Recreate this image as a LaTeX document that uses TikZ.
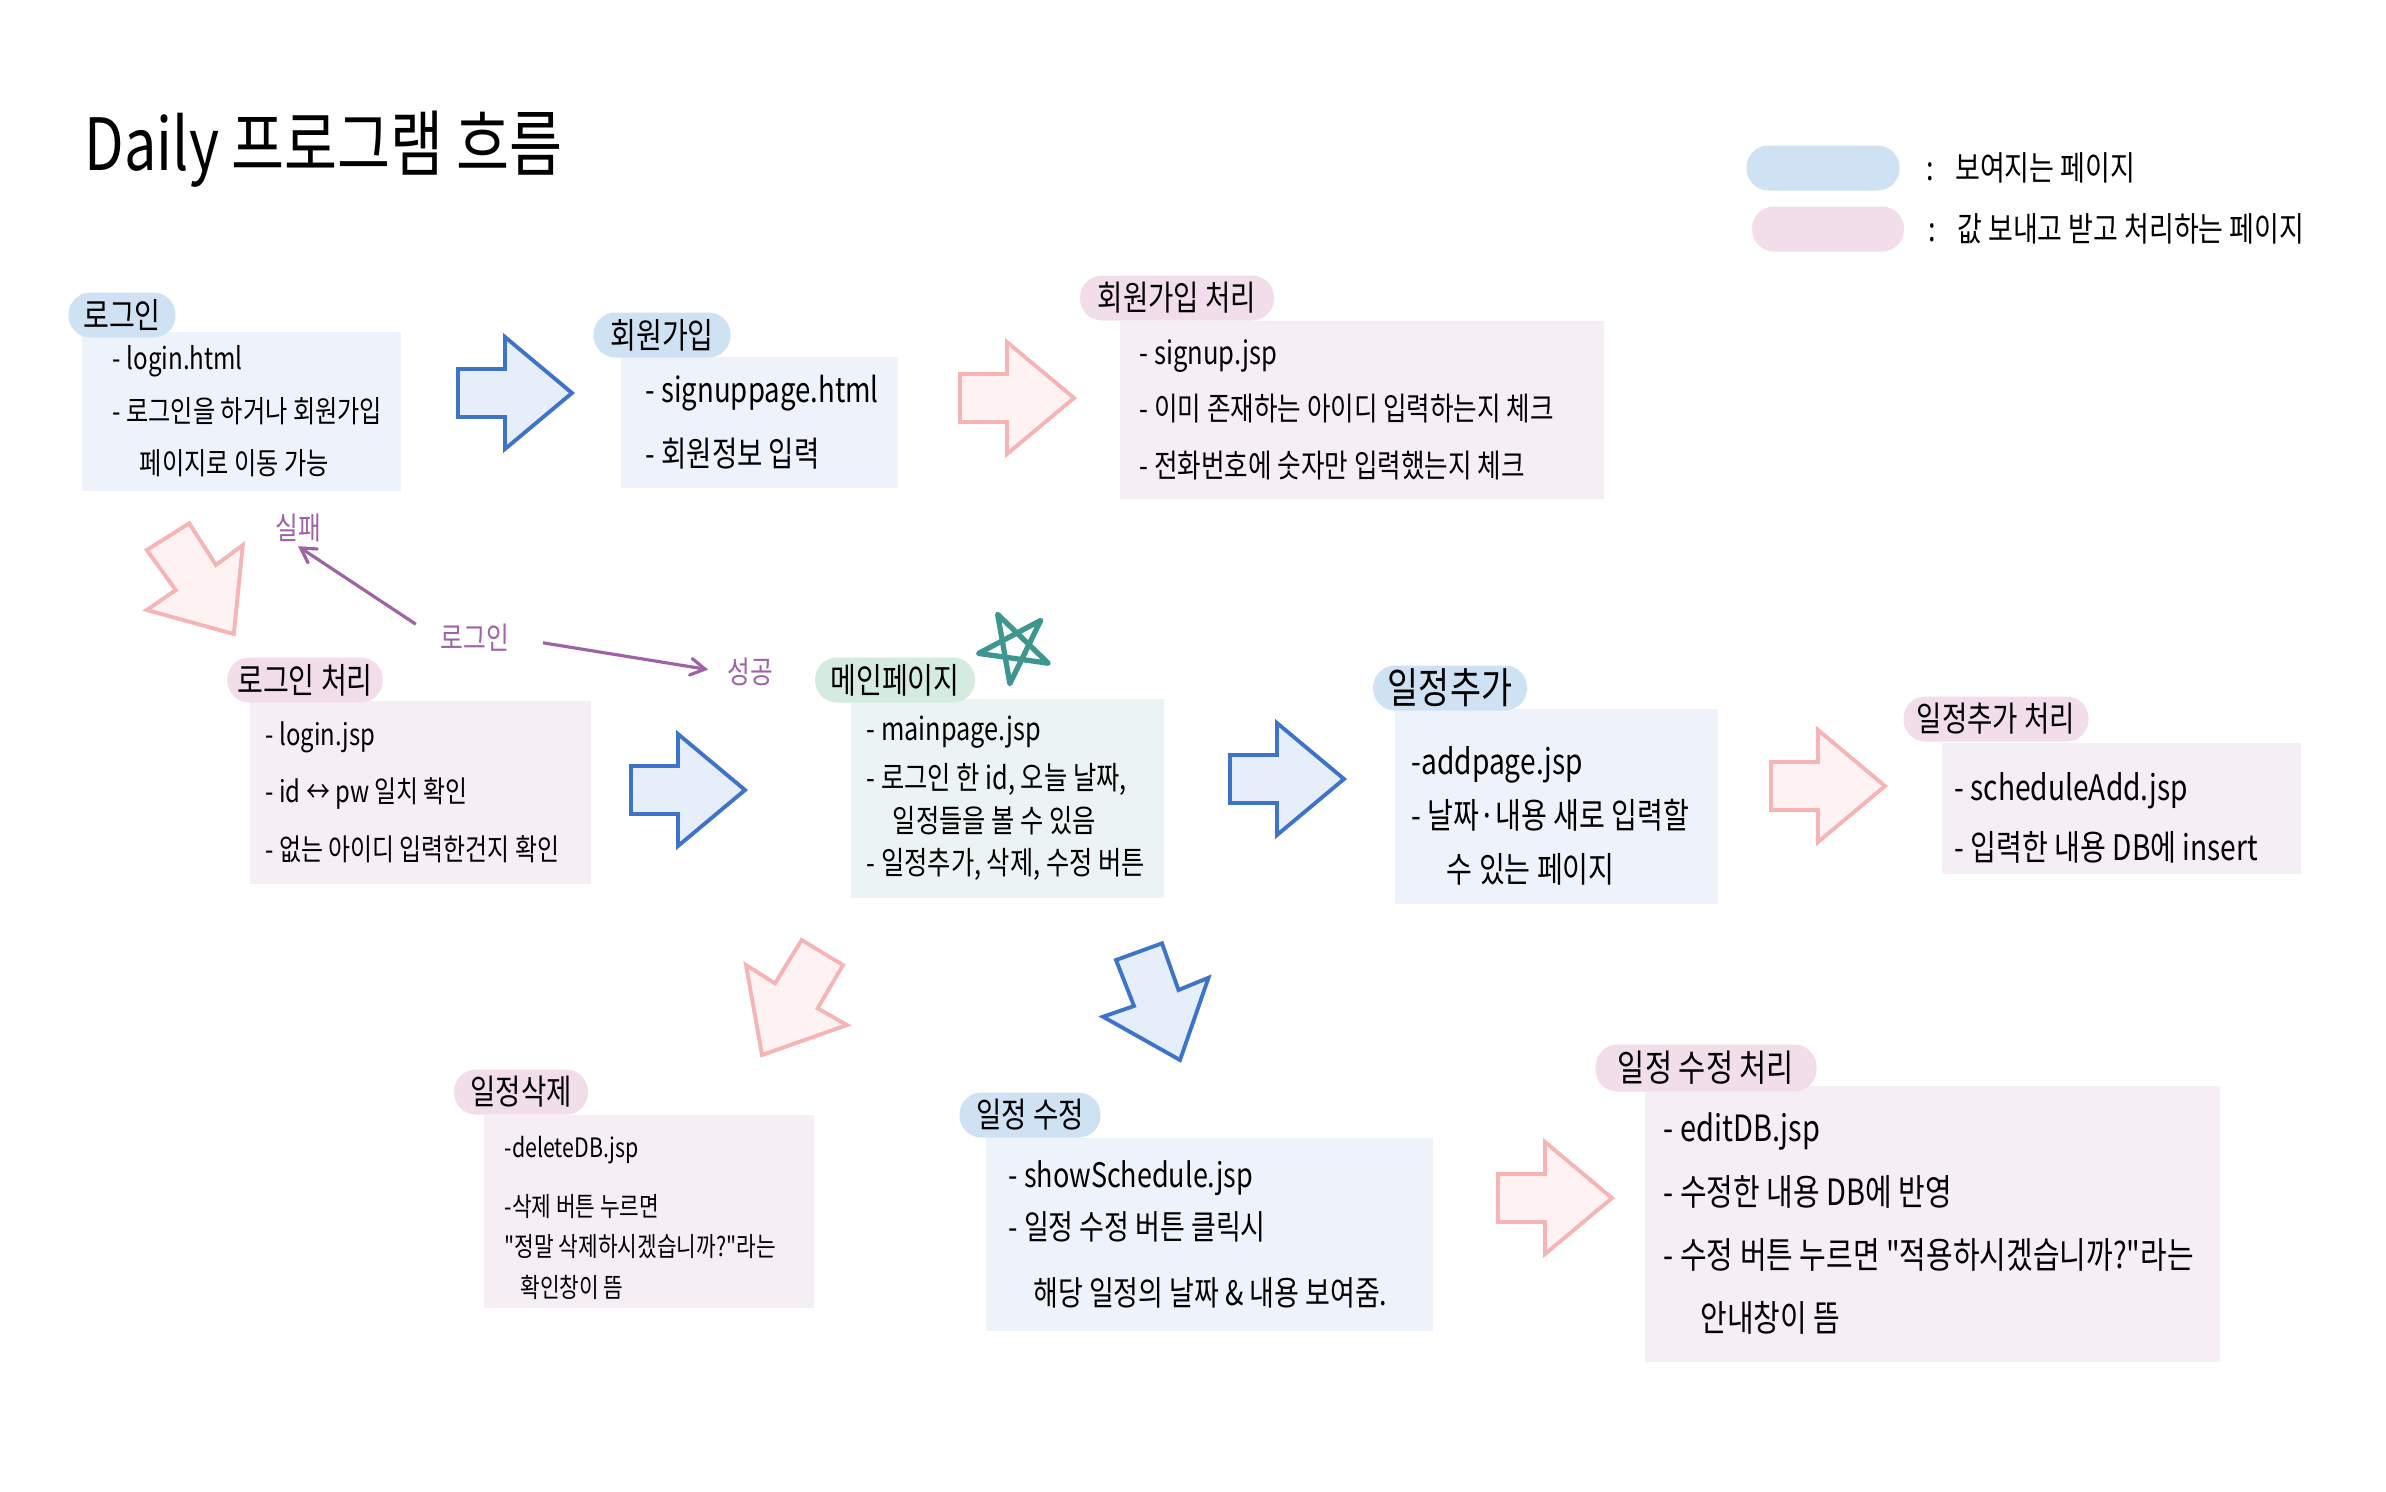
\documentclass[tikz,border=0pt]{standalone}
\usepackage{fontspec}
\newfontfamily\hand[FakeStretch=0.8]{Noto Sans CJK KR}
\usetikzlibrary{arrows, positioning}

\definecolor{tagblue}{HTML}{CFE2F3}
\definecolor{tagpink}{HTML}{F2DEEA}
\definecolor{taggreen}{HTML}{D4EBDF}
\definecolor{boxblue}{HTML}{EEF3FB}
\definecolor{boxpink}{HTML}{F5EEF5}
\definecolor{boxgreen}{HTML}{ECF3F3}
\definecolor{arrblue}{HTML}{3D74C9}
\definecolor{arrbluefill}{HTML}{E6EEF9}
\definecolor{arrpink}{HTML}{F7B4B4}
\definecolor{arrpinkfill}{HTML}{FFF2F2}
\definecolor{flowpurple}{HTML}{A062A6}
\definecolor{starteal}{HTML}{3E9690}

% block arrow pointing right, tail centre at #2
\newcommand{\rightblock}[2]{%
  \draw[#1, shift={#2}] (0,-24) -- (47,-24) -- (47,-56) -- (114,0) -- (47,56) -- (47,24) -- (0,24) -- cycle;}

\begin{document}
\begin{tikzpicture}[x=0.1mm, y=-0.1mm,
    tag/.style={rectangle, rounded corners=2.2mm, fill=#1, minimum height=4.5mm, inner xsep=1mm, inner ysep=0pt, font=\hand\fontsize{10}{12}\selectfont},
    page/.style={rectangle, fill=#1, anchor=north west, inner sep=0pt},
    pagetext/.style={inner sep=0pt, align=left},
    showarrow/.style={draw=arrblue, fill=arrbluefill, line width=1.1pt},
    procarrow/.style={draw=arrpink, fill=arrpinkfill, line width=1.1pt},
    flow/.style={->, >=angle 60, draw=flowpurple, line width=0.9pt},
    flowlabel/.style={text=flowpurple, inner sep=1pt, font=\hand\fontsize{8.8}{10}\selectfont},
    legendtext/.style={anchor=west, inner sep=0pt, font=\hand\fontsize{9.6}{11}\selectfont}]

    \path[use as bounding box, fill=white] (0,0) rectangle (2386,1491);

    % Title and legend
    \node[anchor=base west, inner sep=0pt, font=\hand\fontsize{20.5}{24}\selectfont] (title) at (84,170) {Daily 프로그램 흐름};
    \node[tag=tagblue, minimum width=15.3mm] (legshow) at (1823,168) {};
    \node[tag=tagpink, minimum width=15.2mm] (legproc) at (1828,229) {};
    \node[legendtext] (legshowtxt) at (1926,168) {:\hspace{6pt}보여지는 페이지};
    \node[legendtext] (legproctxt) at (1928,229) {:\hspace{6pt}값 보내고 받고 처리하는 페이지};

    % Row 1: login, sign-up page, sign-up processing
    \node[page=boxblue, minimum width=31.9mm, minimum height=15.9mm] (login) at (81,331) {};
    \node[pagetext, right=3.1mm of login.west, font=\hand\fontsize{8.6}{15}\selectfont] (logintxt) {- login.html\\- 로그인을 하거나 회원가입\\\hspace*{7.7pt}페이지로 이동 가능};
    \node[tag=tagblue, minimum width=10.7mm] (logintag) at (122,315) {로그인};

    \node[page=boxblue, minimum width=27.7mm, minimum height=13.1mm] (signup) at (620,356) {};
    \node[pagetext, right=2.5mm of signup.west, font=\hand\fontsize{9.8}{18}\selectfont] (signuptxt) {- signuppage.html\\- 회원정보 입력};
    \node[tag=tagblue, minimum width=13.7mm] (signuptag) at (662,335) {회원가입};

    \node[page=boxpink, minimum width=48.4mm, minimum height=17.8mm] (signupdb) at (1119,320) {};
    \node[pagetext, right=2mm of signupdb.west, font=\hand\fontsize{9.1}{16}\selectfont] (signupdbtxt) {- signup.jsp\\- 이미 존재하는 아이디 입력하는지 체크\\- 전화번호에 숫자만 입력했는지 체크};
    \node[tag=tagpink, minimum width=19.4mm, font=\hand\fontsize{9.8}{12}\selectfont] (signupdbtag) at (1177,298) {회원가입 처리};

    \rightblock{showarrow}{(458,393)}
    \rightblock{procarrow}{(960,398)}

    % Row 2: login check, main page, add schedule
    \node[page=boxpink, minimum width=34.1mm, minimum height=18.3mm] (logindb) at (249,700) {};
    \node[pagetext, right=1.6mm of logindb.west, font=\hand\fontsize{8.5}{16.4}\selectfont] (logindbtxt) {- login.jsp\\- id ↔ pw 일치 확인\\- 없는 아이디 입력한건지 확인};
    \node[tag=tagpink, minimum width=15.3mm] (logindbtag) at (305,680) {로그인 처리};

    \node[page=boxgreen, minimum width=31.3mm, minimum height=19.9mm] (main) at (850,698) {};
    \node[pagetext, right=1.6mm of main.west, font=\hand\fontsize{9}{12}\selectfont] (maintxt) {- mainpage.jsp\\[2pt]- 로그인 한 id, 오늘 날짜,\\\hspace*{7.4pt}일정들을 볼 수 있음\\- 일정추가, 삭제, 수정 버튼};
    \node[tag=taggreen, minimum width=16mm] (maintag) at (895,680) {메인페이지};

    \node[page=boxblue, minimum width=32.3mm, minimum height=19.5mm] (add) at (1394,708) {};
    \node[pagetext, right=1.7mm of add.west, yshift=-1mm, font=\hand\fontsize{10}{15.4}\selectfont] (addtxt) {-addpage.jsp\\- 날짜·내용 새로 입력할\\\hspace*{10pt}수 있는 페이지};
    \node[tag=tagblue, minimum width=15.4mm, font=\hand\fontsize{12}{14}\selectfont] (addtag) at (1450,688) {일정추가};

    \node[page=boxpink, minimum width=35.9mm, minimum height=13.1mm] (adddb) at (1941,742) {};
    \node[pagetext, right=1.3mm of adddb.west, yshift=-1mm, font=\hand\fontsize{10}{17}\selectfont] (adddbtxt) {- scheduleAdd.jsp\\- 입력한 내용 DB에 insert};
    \node[tag=tagpink, minimum width=18.5mm, font=\hand\fontsize{9.8}{12}\selectfont] (adddbtag) at (1996,719) {일정추가 처리};

    \rightblock{showarrow}{(631,790)}
    \rightblock{showarrow}{(1230,779)}
    \rightblock{procarrow}{(1771,786)}

    % Login result
    \node[flowlabel] (loginlbl) at (475,638) {로그인};
    \node[flowlabel] (faillbl) at (298,528) {실패};
    \node[flowlabel] (oklbl) at (750,672) {성공};
    \draw[flow, shorten <=2.5mm] (loginlbl.west) -- (faillbl.south);
    \draw[flow, shorten <=3mm, shorten >=1.5mm] (loginlbl.east) -- (oklbl.west);

    % Star next to the main page
    \draw[starteal, line width=1.5pt, line join=round, shift={(1015,647)}] (-118:37) -- (26:37) -- (170:37) -- (-46:37) -- (98:37) -- cycle;

    % Diagonal arrows
    \draw[procarrow] (146.8,550) -- (189.2,523.3) -- (216,565) -- (242.8,545) -- (233.8,634) -- (146.8,610) -- (175.8,590) -- cycle;
    \draw[procarrow] (801.6,940) -- (843,965) -- (817.6,1008.3) -- (847,1025) -- (762,1055) -- (746,965) -- (775,983.3) -- cycle;
    \draw[showarrow] (1116,960) -- (1162,943.3) -- (1178.5,990) -- (1208.5,977.7) -- (1180,1060) -- (1103,1016.7) -- (1134,1006) -- cycle;

    % Row 3: delete, edit page, edit processing
    \node[page=boxpink, minimum width=33mm, minimum height=19.3mm] (del) at (483,1114) {};
    \node[pagetext, right=2.1mm of del.west, yshift=-0.7mm, font=\hand\fontsize{7.6}{11.6}\selectfont] (deltxt) {-deleteDB.jsp\\[5pt]-삭제 버튼 누르면\\"정말 삭제하시겠습니까?"라는\\\hspace*{4.5pt}확인창이 뜸};
    \node[tag=tagpink, minimum width=13.4mm, font=\hand\fontsize{9.8}{12}\selectfont] (deltag) at (521,1092) {일정삭제};

    \node[page=boxblue, minimum width=44.7mm, minimum height=19.3mm] (edit) at (985,1137) {};
    \node[pagetext, right=2.3mm of edit.west, font=\hand\fontsize{9.6}{14.8}\selectfont] (edittxt) {- showSchedule.jsp\\- 일정 수정 버튼 클릭시\\[4pt]\hspace*{7pt}해당 일정의 날짜 \& 내용 보여줌.};
    \node[tag=tagblue, minimum width=14.1mm, font=\hand\fontsize{9.8}{12}\selectfont] (edittag) at (1030,1115) {일정 수정};

    \node[page=boxpink, minimum width=57.5mm, minimum height=27.6mm] (editdb) at (1644,1085) {};
    \node[pagetext, right=1.9mm of editdb.west, font=\hand\fontsize{10.3}{18}\selectfont] (editdbtxt) {- editDB.jsp\\- 수정한 내용 DB에 반영\\- 수정 버튼 누르면 "적용하시겠습니까?"라는\\\hspace*{10.5pt}안내창이 뜸};
    \node[tag=tagpink, minimum width=22.1mm, minimum height=4.7mm, font=\hand\fontsize{10.5}{12}\selectfont] (editdbtag) at (1706,1068) {일정 수정 처리};

    \rightblock{procarrow}{(1498,1198)}
\end{tikzpicture}
\end{document}
